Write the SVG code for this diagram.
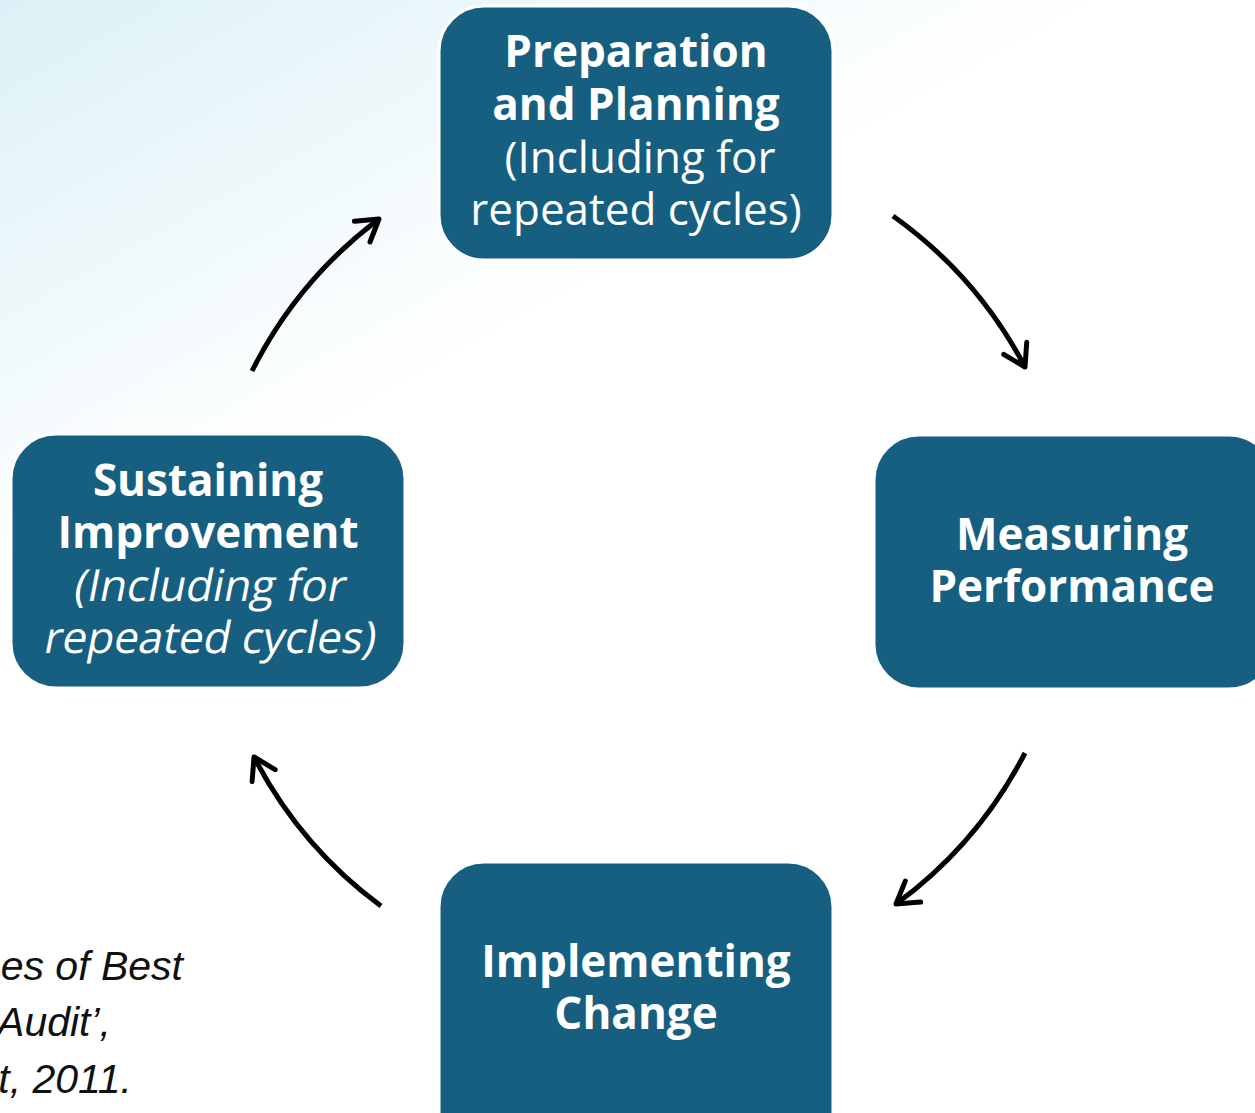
<svg xmlns="http://www.w3.org/2000/svg" width="1255" height="1113" viewBox="0 0 1255 1113">
  <defs>
    <linearGradient id="bg" gradientUnits="userSpaceOnUse" x1="0" y1="0" x2="260" y2="470">
      <stop offset="0" stop-color="#dcf1f7"/>
      <stop offset="1" stop-color="#ffffff"/>
    </linearGradient>
    <marker id="arrow" markerUnits="userSpaceOnUse" markerWidth="60" markerHeight="60" refX="0" refY="0" viewBox="-30 -30 60 60" orient="auto" overflow="visible">
      <path d="M-21,-13 L0,0 L-21,13" fill="none" stroke="#000" stroke-width="5" stroke-linecap="round" stroke-linejoin="round"/>
    </marker>
    <style>
      .box { fill: #175f80; stroke: #ffffff; stroke-width: 3; }
      .lbl { font-family: "Open Sans", "Noto Sans", sans-serif; font-size: 44px; fill: #ffffff; text-anchor: middle; }
      .b { font-weight: 700; }
      .conn { fill: none; stroke: #000; stroke-width: 5; marker-end: url(#arrow); }
      .note { font-family: "Liberation Sans", Arial, sans-serif; font-size: 41px; font-style: italic; fill: #111; text-anchor: end; }
    </style>
  </defs>

  <rect x="0" y="0" width="1255" height="1113" fill="url(#bg)"/>

  <g id="connectors">
    <path class="conn" d="M893,216 A432,432 0 0 1 1025,367"/>
    <path class="conn" d="M1025,753 A432,432 0 0 1 896,904"/>
    <path class="conn" d="M381,906 A432,432 0 0 1 254,757"/>
    <path class="conn" d="M252,371 A432,432 0 0 1 379,219"/>
  </g>

  <g id="node-preparation">
    <rect class="box" x="439" y="6" width="394" height="254" rx="45"/>
    <text class="lbl b" x="636" y="67">Preparation</text>
    <text class="lbl b" x="636" y="120">and Planning</text>
    <text class="lbl" x="640" y="173">(Including for</text>
    <text class="lbl" x="636" y="225">repeated cycles)</text>
  </g>

  <g id="node-measuring">
    <rect class="box" x="874" y="435" width="400" height="254" rx="45"/>
    <text class="lbl b" x="1072" y="550">Measuring</text>
    <text class="lbl b" x="1072" y="602">Performance</text>
  </g>

  <g id="node-implementing">
    <rect class="box" x="439" y="862" width="394" height="300" rx="45"/>
    <text class="lbl b" x="636" y="977">Implementing</text>
    <text class="lbl b" x="636" y="1029">Change</text>
  </g>

  <g id="node-sustaining">
    <rect class="box" x="11" y="434" width="394" height="254" rx="45"/>
    <text class="lbl b" x="208" y="496">Sustaining</text>
    <text class="lbl b" x="208" y="548">Improvement</text>
    <text class="lbl" transform="translate(208,601) skewX(-11)" x="0" y="0">(Including for</text>
    <text class="lbl" transform="translate(208,653) skewX(-11)" x="0" y="0">repeated cycles)</text>
  </g>

  <g id="source-note">
    <text class="note" x="183" y="980">es of Best</text>
    <text class="note" x="111" y="1036">Audit’,</text>
    <text class="note" x="132" y="1093">t, 2011.</text>
  </g>
</svg>
